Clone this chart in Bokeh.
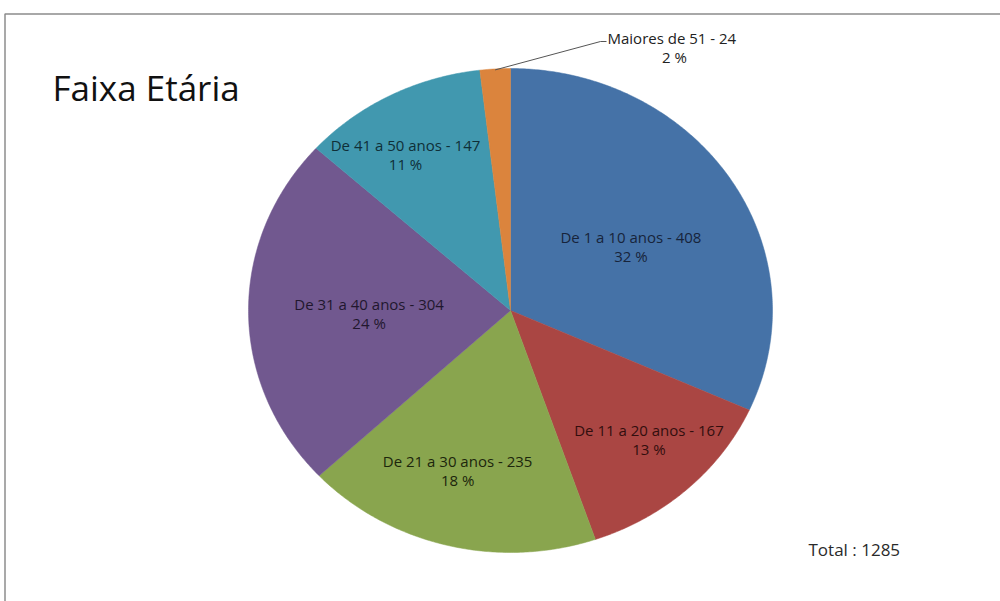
import numpy as np
from bokeh.plotting import figure
from bokeh.models import Range1d, ColumnDataSource
from bokeh.core.properties import value
from bokeh.embed import file_html
from bokeh.resources import INLINE

# ---- data ----
categories = ["De 1 a 10 anos", "De 11 a 20 anos", "De 21 a 30 anos",
              "De 31 a 40 anos", "De 41 a 50 anos", "Maiores de 51"]
counts = [408, 167, 235, 304, 147, 24]
title_text = "Faixa Etária"
total_label = "Total : 1285"

# ---- styles / layout ----
colors = ["#4572A7", "#AA4643", "#89A54E", "#71588F", "#4198AF", "#DB843D"]
text_colors = ["#17243b", "#320e0e", "#1c260c", "#21172e", "#0f2f38", "#222222"]
label_r = [0.53, 0.75, 0.69, 0.54, 0.76]   # fraction of radius for inside labels
label_da = [3.0, -2.5, 3.0, -1.0, -4.5]     # small angle tweak (deg) for inside labels
CX, CY, RX, RY = 510.0, 310.0, 262.0, 242.0
FONT = "Open Sans"
LBL = "15px"

total = sum(counts)
fracs = [c / total for c in counts]
cum = np.concatenate([[0.0], np.cumsum(fracs)]) * 360.0

p = figure(width=1000, height=601, x_range=Range1d(0, 1000), y_range=Range1d(601, 0),
           output_backend="svg", toolbar_location=None, min_border=0,
           background_fill_color="white", border_fill_color="white")
p.axis.visible = False
p.grid.visible = False
p.outline_line_color = None

# frame border
p.line(x=[4.5, 4.5, 1000], y=[601, 13.5, 13.5], line_color="#8c8c8c", line_width=1.5)

# slices
xs, ys = [], []
for i in range(len(counts)):
    a0, a1 = cum[i], cum[i + 1]
    th = np.radians(np.linspace(a0, a1, max(8, int((a1 - a0) * 2))))
    xs.append(list(np.concatenate([[CX], CX + RX * np.sin(th)])))
    ys.append(list(np.concatenate([[CY], CY - RY * np.cos(th)])))
p.patches(xs=xs, ys=ys, fill_color=colors, line_color=colors, line_width=0.5)

# inside labels
lx, ly, l1, l2, tc = [], [], [], [], []
for i in range(5):
    mid = np.radians((cum[i] + cum[i + 1]) / 2 + label_da[i])
    lx.append(CX + label_r[i] * RX * np.sin(mid))
    ly.append(CY - label_r[i] * RY * np.cos(mid))
    l1.append(f"{categories[i]} - {counts[i]}")
    l2.append(f"{round(fracs[i] * 100):.0f} %")
    tc.append(text_colors[i])
src = ColumnDataSource(dict(x=lx, y=ly, l1=l1, l2=l2, c=tc))
p.text(x="x", y="y", text="l1", source=src, text_color="c", text_align="center",
       text_baseline="middle", y_offset=-9.5, text_font=value(FONT), text_font_size=LBL)
p.text(x="x", y="y", text="l2", source=src, text_color="c", text_align="center",
       text_baseline="middle", y_offset=9.5, text_font=value(FONT), text_font_size=LBL)

# outside label for small slice with leader line
i = 5
mid = np.radians((cum[i] + cum[i + 1]) / 2)
ex, ey = CX + RX * np.sin(mid), CY - RY * np.cos(mid)
p.line(x=[ex, 600, 606], y=[ey + 1, 41, 41], line_color="#555555", line_width=1)
p.text(x=[607], y=[37], text=[f"{categories[i]} - {counts[i]}"], text_color=text_colors[i],
       text_align="left", text_baseline="middle", text_font=value(FONT), text_font_size=LBL)
p.text(x=[674], y=[56], text=[f"{round(fracs[i] * 100):.0f} %"], text_color=text_colors[i],
       text_align="center", text_baseline="middle", text_font=value(FONT), text_font_size=LBL)

# title and total
p.text(x=[52], y=[87], text=[title_text], text_color="#111111", text_align="left",
       text_baseline="middle", text_font=value(FONT), text_font_size="35px")
p.text(x=[808], y=[549], text=[total_label], text_color="#2a2a2a", text_align="left",
       text_baseline="middle", text_font=value(FONT), text_font_size="17px")

open("out.html", "w").write(file_html(p, INLINE))
